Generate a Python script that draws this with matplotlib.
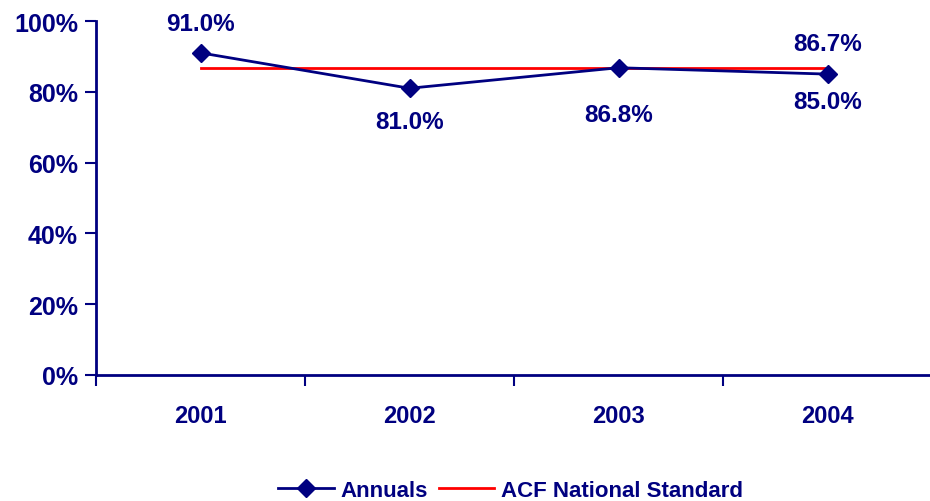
import matplotlib
matplotlib.use("Agg")
import matplotlib.pyplot as plt
import matplotlib.ticker as ticker

years = ["2001", "2002", "2003", "2004"]
annuals = [91.0, 81.0, 86.8, 85.0]
standard = [86.7, 86.7, 86.7, 86.7]
y_ticks = [0, 20, 40, 60, 80, 100]

# label offsets in points (dx, dy) for each annual value
annual_offsets = [(0, 21), (0, -24), (0, -34), (0, -20)]

navy = "#000080"
plt.rcParams['font.family'] = ['Liberation Sans', 'DejaVu Sans']
plt.rcParams['font.weight'] = 'bold'

fig = plt.figure(figsize=(9.3, 5.02), dpi=100)
ax = fig.add_axes([96 / 930, 126 / 502, 836 / 930, 354 / 502])

x = list(range(len(years)))
ax.plot(x, annuals, color=navy, lw=2, marker='D', markersize=9, label="Annuals", zorder=3)
ax.plot(x, standard, color="#ff0000", lw=2, label="ACF National Standard", zorder=2)

for i, v in enumerate(annuals):
  ax.annotate("%.1f%%" % v, (x[i], v), xytext=annual_offsets[i], textcoords='offset points',
              ha='center', va='center', fontsize=17.5, fontweight='bold', color=navy)
ax.annotate("%.1f%%" % standard[-1], (x[-1], standard[-1]), xytext=(0, 18), textcoords='offset points',
            ha='center', va='center', fontsize=17.5, fontweight='bold', color=navy)

ax.set_xlim(-0.5, len(years) - 0.5)
ax.set_ylim(0, 100)
ax.set_yticks(y_ticks)
ax.yaxis.set_major_formatter(ticker.FuncFormatter(lambda v, p: "%d%%" % v))

# category boundaries get ticks, labels sit in between
ax.set_xticks([i - 0.5 for i in range(len(years) + 1)])
ax.set_xticklabels([])
ax.set_xticks(x, minor=True)
ax.set_xticklabels(years, minor=True)
ax.tick_params(axis='x', which='major', direction='out', length=8, width=1.5, color=navy)
ax.tick_params(axis='x', which='minor', length=0, pad=21, labelsize=17, labelcolor=navy)
ax.tick_params(axis='y', direction='out', length=8, width=1.5, color=navy, labelsize=18,
               labelcolor=navy, pad=5)
for lab in ax.get_xticklabels(minor=True) + ax.get_yticklabels():
  lab.set_fontweight('bold')

for s in ['top', 'right']:
  ax.spines[s].set_visible(False)
for s in ['left', 'bottom']:
  ax.spines[s].set_color(navy)
  ax.spines[s].set_linewidth(2)

leg = fig.legend(loc='lower center', bbox_to_anchor=(0.549, -0.04), ncol=2, frameon=False,
                 fontsize=16, handlelength=2.5, handletextpad=0.3, columnspacing=0.5)
for t in leg.get_texts():
  t.set_color(navy)
  t.set_fontweight('bold')

fig.savefig("out.png", dpi=100)
